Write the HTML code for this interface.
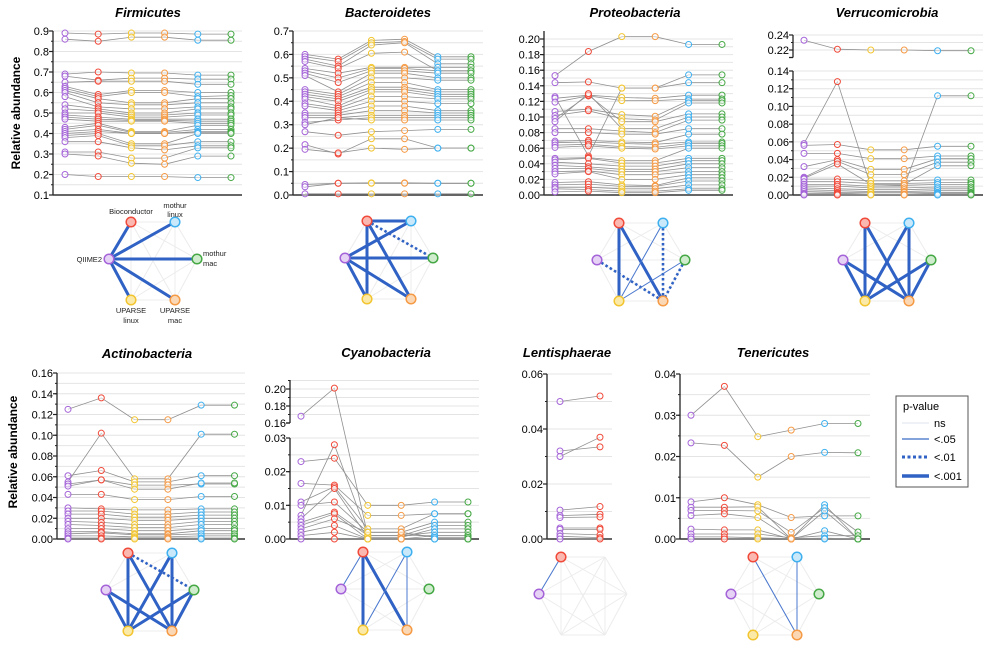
<!DOCTYPE html>
<html><head><meta charset="utf-8"><style>
body{margin:0;background:#fff;}
svg{display:block;font-family:"Liberation Sans",sans-serif;}
</style></head><body>
<svg id="fig" width="1000" height="648" viewBox="0 0 1000 648">
<text x="20" y="113" transform="rotate(-90 20 113)" text-anchor="middle" font-size="12" font-weight="bold">Relative abundance</text>
<text x="17" y="452" transform="rotate(-90 17 452)" text-anchor="middle" font-size="12" font-weight="bold">Relative abundance</text>
<g>
<rect x="896" y="396" width="72" height="91" fill="#fff" stroke="#555" stroke-width="1"/>
<text x="903" y="410" font-size="11">p-value</text>
<line x1="902" y1="423" x2="929" y2="423" stroke="#dde3ee" stroke-width="1"/>
<text x="934" y="427" font-size="11">ns</text>
<line x1="902" y1="439" x2="929" y2="439" stroke="#3a6cc8" stroke-width="1.2"/>
<text x="934" y="443" font-size="11">&lt;.05</text>
<line x1="902" y1="457" x2="929" y2="457" stroke="#2f62c4" stroke-width="3" stroke-dasharray="3,2.5"/>
<text x="934" y="461" font-size="11">&lt;.01</text>
<line x1="902" y1="476" x2="929" y2="476" stroke="#2f62c4" stroke-width="3.5"/>
<text x="934" y="480" font-size="11">&lt;.001</text>
</g>
</svg>
<script>
const NS="http://www.w3.org/2000/svg";
const svg=document.getElementById('fig');
const colors=["#a463d8","#f04a3a","#f2c530","#f59a45","#3fb0ef","#45a845"];
const fills=["#e6d2f5","#fbb8b0","#fbe9a8","#fbd8b5","#c9e9fb","#cfeccd"];

// ---- data ----
const firmicutesRows=[[0.89,0.885,0.89,0.89,0.885,0.885],[0.86,0.85,0.87,0.87,0.855,0.855],[0.69,0.70,0.695,0.695,0.685,0.685],[0.68,0.66,0.67,0.67,0.665,0.665],[0.65,0.655,0.655,0.655,0.64,0.64],[0.63,0.59,0.61,0.61,0.60,0.60],[0.62,0.58,0.60,0.60,0.58,0.585],[0.61,0.57,0.55,0.55,0.57,0.57],[0.60,0.55,0.54,0.54,0.55,0.55],[0.58,0.53,0.52,0.52,0.53,0.53],[0.54,0.52,0.50,0.50,0.52,0.52],[0.52,0.51,0.49,0.49,0.50,0.50],[0.50,0.50,0.48,0.48,0.49,0.49],[0.49,0.48,0.47,0.47,0.47,0.47],[0.48,0.47,0.465,0.465,0.46,0.46],[0.47,0.46,0.46,0.46,0.45,0.45],[0.43,0.45,0.41,0.41,0.44,0.44],[0.42,0.44,0.405,0.405,0.42,0.42],[0.41,0.42,0.40,0.40,0.41,0.41],[0.40,0.41,0.40,0.40,0.405,0.405],[0.39,0.40,0.35,0.35,0.40,0.40],[0.38,0.39,0.34,0.34,0.36,0.36],[0.36,0.36,0.33,0.32,0.34,0.34],[0.31,0.31,0.28,0.28,0.33,0.33],[0.30,0.29,0.255,0.25,0.29,0.29],[0.20,0.19,0.19,0.19,0.185,0.185]];
const bacteroidetesRows=[[0.60,0.58,0.66,0.665,0.59,0.59],[0.59,0.57,0.65,0.655,0.58,0.58],[0.58,0.55,0.64,0.65,0.56,0.56],[0.57,0.54,0.605,0.61,0.53,0.53],[0.54,0.52,0.545,0.545,0.545,0.545],[0.53,0.50,0.54,0.54,0.53,0.53],[0.52,0.48,0.53,0.53,0.52,0.52],[0.51,0.44,0.52,0.52,0.50,0.50],[0.45,0.43,0.50,0.50,0.49,0.49],[0.44,0.42,0.48,0.48,0.45,0.45],[0.43,0.41,0.46,0.46,0.44,0.44],[0.42,0.40,0.45,0.45,0.43,0.43],[0.41,0.38,0.44,0.44,0.42,0.42],[0.39,0.37,0.42,0.42,0.41,0.41],[0.38,0.36,0.40,0.40,0.39,0.39],[0.35,0.35,0.38,0.38,0.36,0.36],[0.34,0.34,0.36,0.36,0.35,0.35],[0.33,0.33,0.34,0.34,0.34,0.34],[0.31,0.32,0.33,0.33,0.33,0.33],[0.30,0.33,0.32,0.32,0.32,0.32],[0.27,0.255,0.27,0.275,0.28,0.28],[0.215,0.175,0.24,0.24,0.20,0.20],[0.195,0.18,0.20,0.195,0.20,0.20],[0.045,0.05,0.052,0.052,0.05,0.05],[0.035,0.05,0.05,0.05,0.05,0.05],[0.005,0.005,0.005,0.005,0.005,0.005]];
const proteobacteriaRows=[[0.153,0.184,0.203,0.203,0.193,0.193],[0.144,0.145,0.137,0.137,0.154,0.154],[0.126,0.050,0.137,0.137,0.144,0.144],[0.124,0.128,0.125,0.124,0.128,0.128],[0.119,0.127,0.121,0.121,0.123,0.123],[0.107,0.110,0.103,0.101,0.121,0.121],[0.102,0.108,0.098,0.096,0.118,0.118],[0.098,0.128,0.094,0.094,0.104,0.104],[0.094,0.130,0.085,0.085,0.100,0.100],[0.085,0.085,0.082,0.080,0.096,0.096],[0.080,0.080,0.078,0.078,0.085,0.085],[0.069,0.070,0.068,0.067,0.078,0.078],[0.067,0.068,0.066,0.065,0.068,0.068],[0.064,0.065,0.062,0.061,0.066,0.066],[0.061,0.063,0.060,0.059,0.063,0.063],[0.047,0.048,0.044,0.044,0.060,0.060],[0.045,0.047,0.041,0.041,0.047,0.047],[0.042,0.040,0.037,0.037,0.044,0.044],[0.038,0.036,0.033,0.033,0.040,0.040],[0.034,0.034,0.030,0.030,0.035,0.035],[0.030,0.031,0.026,0.026,0.030,0.030],[0.027,0.030,0.020,0.020,0.026,0.026],[0.016,0.017,0.013,0.012,0.022,0.022],[0.013,0.014,0.011,0.011,0.018,0.018],[0.010,0.010,0.008,0.008,0.013,0.013],[0.008,0.007,0.005,0.005,0.008,0.008],[0.004,0.005,0.003,0.003,0.006,0.006]];
const verrucomicrobiaRows=[[0.233,0.221,0.22,0.22,0.219,0.219],[0.058,0.128,0.010,0.010,0.112,0.112],[0.056,0.057,0.051,0.051,0.055,0.055],[0.047,0.047,0.041,0.041,0.044,0.044],[0.032,0.040,0.029,0.029,0.041,0.041],[0.020,0.038,0.023,0.023,0.037,0.037],[0.019,0.035,0.012,0.012,0.033,0.033],[0.018,0.018,0.016,0.016,0.017,0.017],[0.015,0.015,0.013,0.013,0.014,0.014],[0.012,0.012,0.010,0.011,0.012,0.012],[0.010,0.010,0.008,0.008,0.009,0.009],[0.008,0.007,0.006,0.006,0.007,0.007],[0.006,0.005,0.004,0.004,0.005,0.005],[0.004,0.003,0.003,0.003,0.003,0.003],[0.002,0.002,0.001,0.001,0.002,0.002],[0.001,0.001,0.0005,0.0005,0.001,0.001],[0,0,0,0,0,0]];
const actinobacteriaRows=[[0.125,0.136,0.115,0.115,0.129,0.129],[0.055,0.102,0.058,0.058,0.101,0.101],[0.061,0.066,0.055,0.055,0.061,0.061],[0.053,0.057,0.052,0.052,0.053,0.053],[0.051,0.057,0.048,0.048,0.054,0.054],[0.043,0.043,0.038,0.038,0.041,0.041],[0.030,0.029,0.028,0.028,0.029,0.029],[0.027,0.027,0.024,0.024,0.026,0.026],[0.024,0.024,0.021,0.021,0.023,0.023],[0.020,0.020,0.018,0.018,0.020,0.020],[0.017,0.016,0.014,0.014,0.017,0.017],[0.014,0.013,0.011,0.011,0.014,0.014],[0.010,0.010,0.008,0.008,0.010,0.010],[0.007,0.007,0.005,0.005,0.008,0.008],[0.005,0.006,0.004,0.004,0.005,0.005],[0.003,0.003,0.002,0.002,0.003,0.003],[0.001,0.001,0.001,0.001,0.001,0.001],[0,0,0,0,0,0]];
const cyanobacteriaRows=[[0.168,0.201,0.001,0.001,0.001,0.001],[0.023,0.024,0.010,0.010,0.011,0.011],[0.0165,0.016,0.007,0.007,0.0075,0.0075],[0.011,0.0155,0.003,0.003,0.0075,0.0075],[0.010,0.011,0.002,0.002,0.005,0.005],[0.007,0.028,0.001,0.001,0.004,0.004],[0.006,0.015,0.0005,0.0005,0.003,0.003],[0.005,0.008,0.001,0.001,0.002,0.002],[0.004,0.0075,0,0,0.001,0.001],[0.003,0.006,0.002,0.002,0.0005,0.0005],[0.002,0.004,0,0,0,0],[0.001,0.002,0,0,0,0],[0,0,0,0,0,0]];
const lentisphaeraeRows=[[0.050,0.052],[0.032,0.0335],[0.030,0.037],[0.0105,0.0118],[0.0085,0.009],[0.0078,0.008],[0.004,0.004],[0.0035,0.0035],[0.002,0.0015],[0.001,0.0005],[0,0]];
const tenericutesRows=[[0.030,0.037,0.0248,0.0264,0.028,0.028],[0.0233,0.0227,0.015,0.020,0.021,0.0209],[0.009,0.010,0.0083,0.0052,0.0056,0.0056],[0.0077,0.0077,0.0078,0,0.0083,0],[0.0069,0.0069,0.0068,0.0016,0.0076,0.0017],[0.0057,0.0061,0.0052,0,0.0068,0],[0.0024,0.0022,0.0022,0,0.0020,0],[0.0012,0.0012,0.0012,0.0003,0.0008,0.0008],[0.0005,0.0005,0.0003,0.0001,0.0002,0],[0,0,0,0,0,0]];
// network edges: [nodeA,nodeB,level] nodes: 0 QIIME2,1 Bioconductor,2 UPARSE linux,3 UPARSE mac,4 mothur linux,5 mothur mac; level 1:<.05 2:<.01 3:<.001
const firmicutesEdges=[[0,1,3],[0,4,3],[0,5,3],[0,2,3],[0,3,3]];
const bacteroidetesEdges=[[1,4,3],[1,5,2],[0,4,3],[0,5,3],[1,2,3],[1,3,3],[0,2,3],[0,3,3]];
const proteobacteriaEdges=[[1,2,3],[1,3,3],[4,2,1],[4,3,2],[0,3,2],[5,2,1],[5,3,2]];
const verrucomicrobiaEdges=[[1,2,3],[1,3,3],[4,2,3],[4,3,3],[0,2,3],[0,3,3],[5,2,3],[5,3,3]];
const actinobacteriaEdges=[[1,5,2],[1,2,3],[1,3,3],[4,2,3],[4,3,3],[0,2,3],[0,3,3],[5,2,3],[5,3,3]];
const cyanobacteriaEdges=[[1,0,1],[1,2,3],[1,3,3],[4,2,1],[4,3,1]];
const lentisphaeraeEdges=[[0,1,1]];
const tenericutesEdges=[[1,3,1],[4,3,1]];

const panels=[
 {id:'firmicutes',title:'Firmicutes',tx:148,ty:17,ax:53,right:242,x0:65,dx:33.2,dec:1,rows:firmicutesRows,segs:[{lo:0.1,hi:0.9,yb:195,yt:31,ticks:[0.1,0.2,0.3,0.4,0.5,0.6,0.7,0.8,0.9],grid:0.05,top:31}],net:{cx:153,cy:259,edges:firmicutesEdges,nodes:[0,1,2,3,4,5],labels:true}},
 {id:'bacteroidetes',title:'Bacteroidetes',tx:388,ty:17,ax:293,right:483,x0:305,dx:33.2,dec:1,rows:bacteroidetesRows,segs:[{lo:0,hi:0.7,yb:195,yt:31,ticks:[0,0.1,0.2,0.3,0.4,0.5,0.6,0.7],grid:0.05,top:31}],net:{cx:389,cy:258,edges:bacteroidetesEdges,nodes:[0,1,2,3,4,5]}},
 {id:'proteobacteria',title:'Proteobacteria',tx:635,ty:17,ax:544,right:733,x0:555,dx:33.4,dec:2,rows:proteobacteriaRows,segs:[{lo:0,hi:0.2,yb:195,yt:39,ticks:[0,0.02,0.04,0.06,0.08,0.10,0.12,0.14,0.16,0.18,0.20],grid:0.01,top:31}],net:{cx:641,cy:260,edges:proteobacteriaEdges,nodes:[0,1,2,3,4,5]}},
 {id:'verrucomicrobia',title:'Verrucomicrobia',tx:887,ty:17,ax:793,right:983,x0:804,dx:33.4,dec:2,rows:verrucomicrobiaRows,segs:[{lo:0.21,hi:0.24,yb:57.5,yt:35,ticks:[0.22,0.24],grid:0.01,top:35,brk:true},{lo:0,hi:0.14,yb:195,yt:71,ticks:[0,0.02,0.04,0.06,0.08,0.10,0.12,0.14],grid:0.01,top:71}],net:{cx:887,cy:260,edges:verrucomicrobiaEdges,nodes:[0,1,2,3,4,5]}},
 {id:'actinobacteria',title:'Actinobacteria',tx:147,ty:358,ax:57,right:245,x0:68,dx:33.3,dec:2,rows:actinobacteriaRows,segs:[{lo:0,hi:0.16,yb:539,yt:373,ticks:[0,0.02,0.04,0.06,0.08,0.10,0.12,0.14,0.16],grid:0.01,top:373}],net:{cx:150,cy:590,edges:actinobacteriaEdges,nodes:[0,1,2,3,4,5]}},
 {id:'cyanobacteria',title:'Cyanobacteria',tx:386,ty:357,ax:290,right:479,x0:301,dx:33.4,dec:2,rows:cyanobacteriaRows,segs:[{lo:0.16,hi:0.21,yb:423,yt:380.5,ticks:[0.16,0.18,0.20],grid:0.01,top:380,brk:true},{lo:0,hi:0.03,yb:539,yt:438,ticks:[0,0.01,0.02,0.03],grid:0.005,top:438}],net:{cx:385,cy:589,edges:cyanobacteriaEdges,nodes:[0,1,2,3,4,5]}},
 {id:'lentisphaerae',title:'Lentisphaerae',tx:567,ty:357,ax:547,right:612,x0:560,dx:40,dec:2,rows:lentisphaeraeRows,segs:[{lo:0,hi:0.06,yb:539,yt:374,ticks:[0,0.02,0.04,0.06],grid:0.01,top:374}],net:{cx:583,cy:594,edges:lentisphaeraeEdges,nodes:[0,1]}},
 {id:'tenericutes',title:'Tenericutes',tx:773,ty:357,ax:680,right:870,x0:691,dx:33.4,dec:2,rows:tenericutesRows,segs:[{lo:0,hi:0.04,yb:539,yt:374,ticks:[0,0.01,0.02,0.03,0.04],grid:0.005,top:374}],net:{cx:775,cy:594,edges:tenericutesEdges,nodes:[0,1,2,3,4,5]}}
];

function el(tag,attrs,parent){const e=document.createElementNS(NS,tag);for(const k in attrs)e.setAttribute(k,attrs[k]);(parent||svg).appendChild(e);return e;}
function yScale(p,v){for(const s of p.segs){if(v>=s.lo-1e-9&&v<=s.hi+1e-9)return s.yb-(v-s.lo)/(s.hi-s.lo)*(s.yb-s.yt);}const s=p.segs[p.segs.length-1];return s.yb-(v-s.lo)/(s.hi-s.lo)*(s.yb-s.yt);}
function xScale(p,i){return p.x0+i*p.dx;}
const nodeOff=[[-44,0],[-22,-37],[-22,41],[22,41],[22,-37],[44,0]];

panels.forEach(p=>{
 const g=el('g',{});
 
 
 const t=el('text',{x:p.tx,y:p.ty,'text-anchor':'middle','font-size':13,'font-weight':'bold','font-style':'italic'},g);
 t.textContent=p.title;
 
 
 p.segs.forEach(s=>{
  const n=Math.round((s.hi-s.lo)/s.grid);
  for(let k=1;k<=n;k++){const v=s.lo+k*s.grid;const y=s.yb-(v-s.lo)/(s.hi-s.lo)*(s.yb-s.yt);if(y<s.top-0.5)continue;
   const gl=el('line',{x1:p.ax,x2:p.right,y1:y,y2:y,stroke:'#e4e4e4','stroke-width':1},g);
   
   }
  const axl=el('line',{x1:p.ax,x2:p.ax,y1:s.top,y2:s.yb,stroke:'#222','stroke-width':1.3},g);
  
  
  s.ticks.forEach(v=>{const y=yScale({segs:[s]},v);
   el('line',{x1:p.ax-4,x2:p.ax,y1:y,y2:y,stroke:'#222','stroke-width':1.2},g);
   const tl=el('text',{x:p.ax-4,y:y+4,'text-anchor':'end','font-size':11},g);
   tl.textContent=v.toFixed(p.dec);
   
   });
  const m=Math.round((s.hi-s.lo)/s.grid);
  for(let k=0;k<=m;k++){const v=s.lo+k*s.grid;const y=s.yb-(v-s.lo)/(s.hi-s.lo)*(s.yb-s.yt);if(y<s.top-0.5)continue;el('line',{x1:p.ax-2,x2:p.ax,y1:y,y2:y,stroke:'#222','stroke-width':1},g);}
  if(s.brk){el('line',{x1:p.ax-4,x2:p.ax,y1:s.yb,y2:s.yb,stroke:'#222','stroke-width':1.3},g);}
 });
 const bs=p.segs[p.segs.length-1];
 const xa=el('line',{x1:p.ax,x2:p.right,y1:bs.yb,y2:bs.yb,stroke:'#333','stroke-width':1.5},g);
 
 
 p.rows.forEach((r,ri)=>{
  const pts=r.map((v,i)=>xScale(p,i).toFixed(1)+','+yScale(p,v).toFixed(1)).join(' ');
  const pl=el('polyline',{points:pts,fill:'none',stroke:'#909090','stroke-width':0.8},g);
  
  
 });
 p.rows.forEach(r=>{r.forEach((v,i)=>{
  const c=el('circle',{cx:xScale(p,i),cy:yScale(p,v),r:3,fill:'rgba(255,255,255,0.5)',stroke:colors[i],'stroke-width':1},g);
  
  
 });});
 const N=p.net;
 const ng=el('g',{},g);
 
 
 const pos=nodeOff.map(o=>[N.cx+o[0],N.cy+o[1]]);
 for(let a=0;a<6;a++)for(let b=a+1;b<6;b++){el('line',{x1:pos[a][0],y1:pos[a][1],x2:pos[b][0],y2:pos[b][1],stroke:'#ececec','stroke-width':1},ng);}
 N.edges.forEach(e=>{
  const at={x1:pos[e[0]][0],y1:pos[e[0]][1],x2:pos[e[1]][0],y2:pos[e[1]][1],stroke:'#2f62c4'};
  if(e[2]===1){at['stroke-width']=1;at.stroke='#4a78cf';}
  else if(e[2]===2){at['stroke-width']=2.6;at['stroke-dasharray']='2.5,2.5';}
  else at['stroke-width']=3;
  const ln=el('line',at,ng);
  
  
 });
 N.nodes.forEach(i=>{
  const c=el('circle',{cx:pos[i][0],cy:pos[i][1],r:4.8,fill:fills[i],stroke:colors[i],'stroke-width':1.5},ng);
  
  
 });
 if(N.labels){
  const L=[['QIIME2',pos[0][0]-7,pos[0][1]+3,'end'],['Bioconductor',pos[1][0],pos[1][1]-8,'middle'],['UPARSE',pos[2][0],pos[2][1]+13,'middle'],['linux',pos[2][0],pos[2][1]+23,'middle'],['UPARSE',pos[3][0],pos[3][1]+13,'middle'],['mac',pos[3][0],pos[3][1]+23,'middle'],['mothur',pos[4][0],pos[4][1]-14,'middle'],['linux',pos[4][0],pos[4][1]-5,'middle'],['mothur',pos[5][0]+6,pos[5][1]-3,'start'],['mac',pos[5][0]+6,pos[5][1]+7,'start']];
  L.forEach(l=>{const tx=el('text',{x:l[1],y:l[2],'text-anchor':l[3],'font-size':7.5,fill:'#222'},ng);tx.textContent=l[0];
   
   });
 }
});
</script>
</body></html>
